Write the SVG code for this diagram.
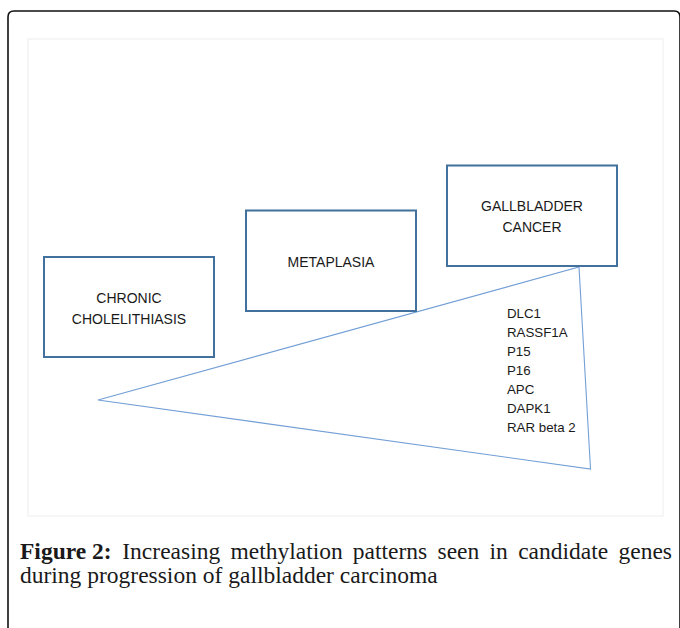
<svg xmlns="http://www.w3.org/2000/svg" width="680" height="628" viewBox="0 0 680 628">
<style>
.box{fill:#ffffff;stroke:#41719c;stroke-width:2}
.lbl{font-family:"Liberation Sans",Arial,sans-serif;font-size:14px;fill:#1a1a1a;text-anchor:middle}
.gene{font-family:"Liberation Sans",Arial,sans-serif;font-size:13.3px;fill:#1a1a1a}
.cap{font-family:"Liberation Serif","Times New Roman",serif;font-size:23.5px;fill:#1a1a1a}
.capb{font-weight:bold}
</style>
<rect x="0" y="0" width="680" height="628" fill="#ffffff"/>
<path d="M8,640 V17 Q8,11 14,11 H674 Q680,11 680,17 V640" fill="none" stroke="#111111" stroke-width="1.6"/>
<rect x="28" y="39" width="635" height="477" fill="none" stroke="#eeeeee" stroke-width="1"/>
<g id="connectors">
<polygon points="98,400 579,267 590.5,469" fill="none" stroke="#739fd6" stroke-width="1.1"/>
</g>
<g id="node-chronic">
<rect class="box" x="44" y="257" width="170" height="100"/>
<text class="lbl" x="129" y="303">CHRONIC</text>
<text class="lbl" x="129" y="324">CHOLELITHIASIS</text>
</g>
<g id="node-metaplasia">
<rect class="box" x="246" y="210.5" width="170" height="100.5"/>
<text class="lbl" x="331" y="267">METAPLASIA</text>
</g>
<g id="node-cancer">
<rect class="box" x="447" y="165.5" width="170" height="100.5"/>
<text class="lbl" x="532" y="211">GALLBLADDER</text>
<text class="lbl" x="532" y="232">CANCER</text>
</g>
<g id="genes">
<text class="gene" x="507" y="318">DLC1</text>
<text class="gene" x="507" y="337">RASSF1A</text>
<text class="gene" x="507" y="356">P15</text>
<text class="gene" x="507" y="375">P16</text>
<text class="gene" x="507" y="394">APC</text>
<text class="gene" x="507" y="413">DAPK1</text>
<text class="gene" x="507" y="432">RAR beta 2</text>
</g>
<g id="caption">
<text class="cap capb" x="20" y="559">Figure 2:</text>
<text class="cap" x="122.3" y="559">Increasing</text>
<text class="cap" x="230.5" y="559">methylation</text>
<text class="cap" x="352.8" y="559">patterns</text>
<text class="cap" x="437.5" y="559">seen</text>
<text class="cap" x="489.6" y="559">in</text>
<text class="cap" x="518.2" y="559">candidate</text>
<text class="cap" x="672" y="559" text-anchor="end">genes</text>
<text class="cap" x="20" y="583">during progression of gallbladder carcinoma</text>
</g>
</svg>
